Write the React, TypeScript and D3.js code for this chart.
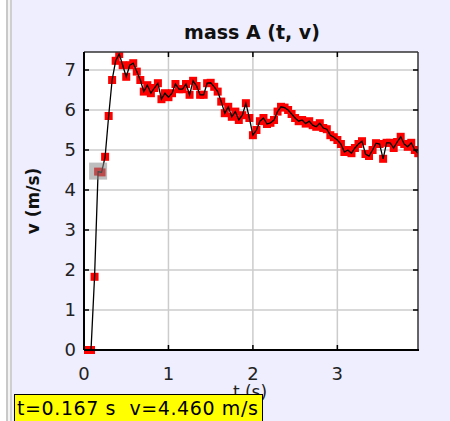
import React from 'react';
import * as d3 from 'd3';

// sampled time (s) and velocity (m/s) for mass A
const times = [
  0.0, 0.042, 0.083, 0.125, 0.167, 0.208, 0.25, 0.292, 0.333, 0.375, 0.417, 0.458,
  0.5, 0.542, 0.583, 0.625, 0.667, 0.708, 0.75, 0.792, 0.833, 0.875, 0.917, 0.958,
  1.0, 1.042, 1.083, 1.125, 1.167, 1.208, 1.25, 1.292, 1.333, 1.375, 1.417, 1.458,
  1.5, 1.542, 1.583, 1.625, 1.667, 1.708, 1.75, 1.792, 1.833, 1.875, 1.917, 1.958,
  2.0, 2.042, 2.083, 2.125, 2.167, 2.208, 2.25, 2.292, 2.333, 2.375, 2.417, 2.458,
  2.5, 2.542, 2.583, 2.625, 2.667, 2.708, 2.75, 2.792, 2.833, 2.875, 2.917, 2.958,
  3.0, 3.042, 3.083, 3.125, 3.167, 3.208, 3.25, 3.292, 3.333, 3.375, 3.417, 3.458,
  3.5, 3.542, 3.583, 3.625, 3.667, 3.708, 3.75, 3.792, 3.833, 3.875, 3.917, 3.958,
];

const velocities = [
  0, 0, 0, 1.83, 4.46, 4.44, 4.83, 5.85, 6.75, 7.23, 7.4, 7.12,
  6.83, 7.12, 7.17, 6.96, 6.75, 6.46, 6.62, 6.42, 6.55, 6.67, 6.27, 6.42,
  6.32, 6.42, 6.65, 6.52, 6.52, 6.65, 6.38, 6.73, 6.6, 6.38, 6.38, 6.67,
  6.68, 6.58, 6.46, 6.21, 5.92, 6.08, 5.83, 5.96, 5.75, 5.87, 6.17, 5.8,
  5.37, 5.5, 5.72, 5.8, 5.65, 5.68, 5.75, 5.96, 6.08, 6.06, 6.0, 5.9,
  5.8, 5.72, 5.75, 5.66, 5.72, 5.62, 5.58, 5.67, 5.55, 5.52, 5.37, 5.32,
  5.25, 5.15, 4.95, 5.0, 4.92, 5.05, 5.15, 5.22, 4.9, 4.85, 5.0, 5.17,
  5.15, 4.78, 5.18, 5.18, 5.05, 5.2, 5.33, 5.15, 5.08, 5.18, 5.0, 4.92,
];

const xTicks = [0, 1, 2, 3];
const yTicks = [0, 1, 2, 3, 4, 5, 6, 7];

const selectedIndex = 4;
const title = 'mass A (t, v)';
const xLabel = 't (s)';
const yLabel = 'v (m/s)';

const W = 450;
const H = 421;
const plot = { left: 84, right: 418, top: 52, bottom: 350 };
const font = '"DejaVu Sans", "Lucida Grande", sans-serif';

export default function App() {
  const x = d3.scaleLinear().domain([0, 3.955]).range([plot.left, plot.right]);
  const y = d3.scaleLinear().domain([0, 7.45]).range([plot.bottom, plot.top]);

  const pts = times.map((t, i) => [t, velocities[i]] as [number, number]);
  const line = d3
    .line<[number, number]>()
    .x((d) => x(d[0]))
    .y((d) => y(d[1]));

  const sel = pts[selectedIndex];
  const sq = 8;

  return (
    <svg width={W} height={H} style={{ position: 'absolute', left: 0, top: 0, fontFamily: font }}>
      <defs>
        <clipPath id="plotClip">
          <rect x={plot.left} y={plot.top} width={plot.right - plot.left} height={plot.bottom - plot.top + 5} />
        </clipPath>
      </defs>
      <rect x={0} y={0} width={W} height={H} fill="#eeeeff" />
      <rect x={0} y={0} width={6} height={H} fill="#ffffff" />
      <rect x={6} y={0} width={2} height={H} fill="#c9c9c9" />
      <rect x={8} y={0} width={2} height={H} fill="#f4f4f4" />
      <rect x={10} y={0} width={2} height={H} fill="#cfcfcf" />

      <rect x={plot.left} y={plot.top} width={plot.right - plot.left} height={plot.bottom - plot.top} fill="#fff" />

      {/* grid */}
      {xTicks.map((t) => (
        <line key={'gx' + t} x1={x(t)} x2={x(t)} y1={plot.top} y2={plot.bottom} stroke="#cccccc" strokeWidth={1.5} />
      ))}
      {yTicks.map((v) => (
        <line key={'gy' + v} x1={plot.left} x2={plot.right} y1={y(v)} y2={y(v)} stroke="#cccccc" strokeWidth={1.5} />
      ))}

      <g clipPath="url(#plotClip)">
        {pts.map((d, i) => (
          <rect key={i} x={x(d[0]) - sq / 2} y={y(d[1]) - sq / 2} width={sq} height={sq} fill="#ff0000" />
        ))}
        <path d={line(pts) || ''} fill="none" stroke="#000" strokeWidth={1.3} />
      </g>

      {/* highlighted point */}
      <rect x={x(sel[0]) - 9} y={y(sel[1]) - 9} width={18} height={17} fill="#888888" opacity={0.55} />

      {/* frame */}
      <line x1={plot.left} x2={plot.right} y1={plot.top} y2={plot.top} stroke="#333" strokeWidth={1.5} />
      <line x1={plot.right} x2={plot.right} y1={plot.top} y2={plot.bottom} stroke="#333" strokeWidth={1.5} />
      <line x1={plot.left} x2={plot.left} y1={plot.top} y2={plot.bottom} stroke="#000" strokeWidth={2} />
      <line x1={plot.left} x2={plot.right + 1} y1={plot.bottom} y2={plot.bottom} stroke="#000" strokeWidth={2} />

      {/* ticks */}
      {xTicks.map((t) => (
        <g key={'tx' + t}>
          <line x1={x(t)} x2={x(t)} y1={plot.bottom} y2={plot.bottom - 5} stroke="#000" strokeWidth={1.5} />
          <line x1={x(t)} x2={x(t)} y1={plot.top} y2={plot.top + 5} stroke="#000" strokeWidth={1.5} />
          <text x={x(t)} y={380} textAnchor="middle" fontSize={18} fill="#222">
            {t}
          </text>
        </g>
      ))}
      {yTicks.map((v) => (
        <g key={'ty' + v}>
          <line x1={plot.left} x2={plot.left + 5} y1={y(v)} y2={y(v)} stroke="#000" strokeWidth={1.5} />
          <line x1={plot.right} x2={plot.right - 5} y1={y(v)} y2={y(v)} stroke="#000" strokeWidth={1.5} />
          <text x={76} y={y(v)} dy="0.36em" textAnchor="end" fontSize={18} fill="#222">
            {v}
          </text>
        </g>
      ))}

      <text x={252} y={39} textAnchor="middle" fontSize={19} fontWeight="bold" fill="#111">
        {title}
      </text>
      <text x={250} y={398} textAnchor="middle" fontSize={17} fill="#222">
        {xLabel}
      </text>
      <text
        transform={`translate(39, 201) rotate(-90)`}
        textAnchor="middle"
        fontSize={17}
        fontWeight="bold"
        fill="#111"
      >
        {yLabel}
      </text>

      {/* readout */}
      <rect x={14.5} y={394.5} width={248} height={27} fill="#ffff00" stroke="#000" strokeWidth={1} />
      <text x={17} y={415} fontSize={19} fill="#000" letterSpacing={0.6}>
        {`t=${sel[0].toFixed(3)} s\u00a0\u00a0v=${sel[1].toFixed(3)} m/s`}
      </text>
    </svg>
  );
}
